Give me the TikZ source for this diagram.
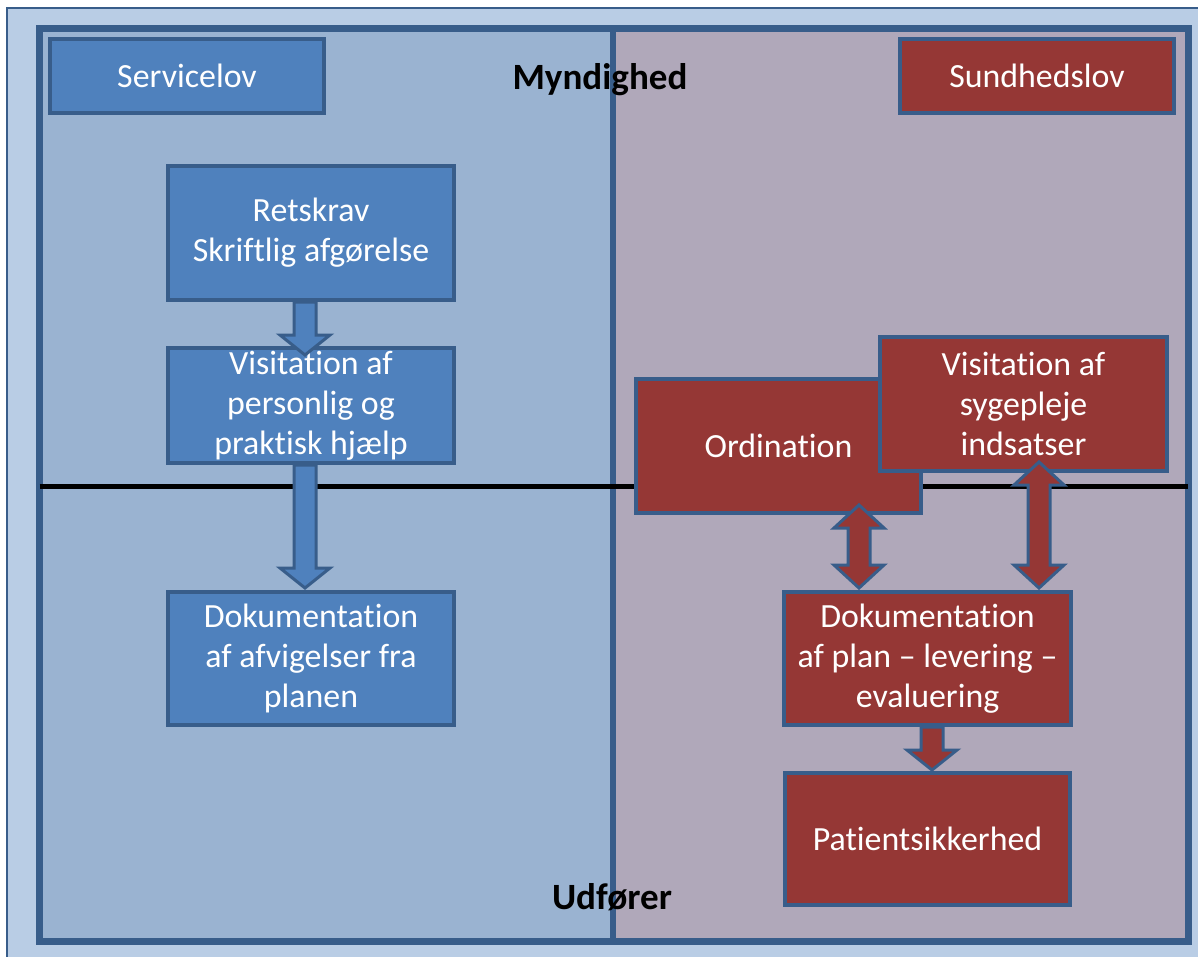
\documentclass[tikz,border=0pt]{standalone}
\usepackage{fontspec}
\setmainfont{Carlito}[Ligatures={NoCommon,NoContextual},RawFeature={-liga;-clig;-calt;-dlig}]
\usetikzlibrary{calc}
\definecolor{bgblue}{HTML}{B9CDE5}
\definecolor{leftpanel}{HTML}{9AB3D1}
\definecolor{rightpanel}{HTML}{B0A8BA}
\definecolor{boxblue}{HTML}{4F81BD}
\definecolor{boxred}{HTML}{953735}
\definecolor{frameblue}{HTML}{385D8A}

\newcommand{\blockdown}[4]{%
  \path[#1] let \p1=(#2), \p2=(#3) in
    (\x2-8.25pt,\y1) -- (\x2+8.25pt,\y1) -- (\x2+8.25pt,\y2+#4) -- (\x2+18.75pt,\y2+#4)
    -- (\x2,\y2) -- (\x2-18.75pt,\y2+#4) -- (\x2-8.25pt,\y2+#4) -- cycle;
}
\newcommand{\blockboth}[4]{%
  \path[#1] let \p1=(#2), \p2=(#3) in
    (\x1,\y1) -- (\x1+18.75pt,\y1-#4) -- (\x1+8.25pt,\y1-#4) -- (\x1+8.25pt,\y2+#4)
    -- (\x1+18.75pt,\y2+#4) -- (\x1,\y2) -- (\x1-18.75pt,\y2+#4) -- (\x1-8.25pt,\y2+#4)
    -- (\x1-8.25pt,\y1-#4) -- (\x1-18.75pt,\y1-#4) -- cycle;
}

\begin{document}
\begin{tikzpicture}[x=0.75pt,y=-0.75pt,
  box/.style={draw=frameblue, line width=3pt, inner sep=0pt, text=white, align=center,
    font=\fontsize{25.4}{30}\selectfont},
  sz/.style 2 args={minimum width=#1*0.75pt, minimum height=#2*0.75pt},
  bluebox/.style={box, fill=boxblue},
  redbox/.style={box, fill=boxred},
  arrowblue/.style={draw=frameblue, line width=2.25pt, fill=boxblue, line join=miter},
  arrowred/.style={draw=frameblue, line width=2.25pt, fill=boxred, line join=miter},
  lanelabel/.style={font=\bfseries\fontsize{27.8}{32}\selectfont, text=black, inner sep=0pt}
]
\useasboundingbox (0,0) rectangle (1198,956);
% background
\fill[white] (0,0) rectangle (1198,956);
\path[fill=bgblue, draw=frameblue, line width=1pt] (7,8) rectangle (1205,963);
% panels
\fill[leftpanel] (39.5,28.5) rectangle (613,941);
\fill[rightpanel] (613,28.5) rectangle (1188,941);
\draw[frameblue, line width=5.25pt] (39.5,28.5) rectangle (1188,941);
\draw[frameblue, line width=4.5pt] (613,28.5) -- (613,941);
% horizontal line
\coordinate (hl) at (39.5,486);
\coordinate (hr) at (1188,486);
\draw[black, line width=3.75pt] (hl) -- (hr);

% boxes
\node[bluebox, sz={274}{74}] (svc) at (187,76) {Servicelov};
\node[redbox, sz={274}{74}] (sund) at (1037,76) {Sundhedslov};
\node[bluebox, sz={286}{134}] (ret) at (311,233) {Retskrav\\Skriftlig afgørelse};
\node[bluebox, sz={286}{115}] (vis1) at (311,405.5) {Visitation af\\personlig og\\praktisk hjælp};
\node[bluebox, sz={286}{133}] (dok1) at (311,658.5) {Dokumentation\\af afvigelser fra\\planen};
\node[redbox, sz={285}{134}] (ord) at (778.5,446) {Ordination};
\node[redbox, sz={287}{134}] (vis2) at (1023.5,404) {Visitation af\\sygepleje\\indsatser};
\node[redbox, sz={287}{133}] (dokr) at (927.5,658.5) {Dokumentation\\af plan -- levering --\\evaluering};
\node[redbox, sz={285}{132}] (pat) at (927.5,839) {Patientsikkerhed};

% lane labels
\node[lanelabel] (mynd) at (600,80) {Myndighed};
\node[lanelabel] (udf) at (612,897) {Udfører};

% arrows
\coordinate (a1s) at ($(ret.south)+(-6,0)$);
\coordinate (a1e) at ($(vis1.north)+(-6,9)$);
\coordinate (a2s) at ($(vis1.south)+(-6,0)$);
\coordinate (a2e) at ($(dok1.north)+(-6,-2)$);
\coordinate (a3s) at ($(dokr.south)+(4.5,0)$);
\coordinate (a3e) at ($(pat.north)+(4.5,-1)$);
\coordinate (d1s) at ($(ord.south)+(80.5,-10)$);
\coordinate (d1e) at ($(dokr.north)+(-68.5,-2)$);
\coordinate (d2s) at ($(vis2.south)+(15.5,-11)$);
\coordinate (d2e) at ($(dokr.north)+(111.5,-2)$);

\blockdown{arrowblue}{a1s}{a1e}{15pt}
\blockdown{arrowblue}{a2s}{a2e}{15pt}
\blockdown{arrowred}{a3s}{a3e}{15pt}
\blockboth{arrowred}{d1s}{d1e}{17.25pt}
\blockboth{arrowred}{d2s}{d2e}{17.25pt}
\end{tikzpicture}
\end{document}
